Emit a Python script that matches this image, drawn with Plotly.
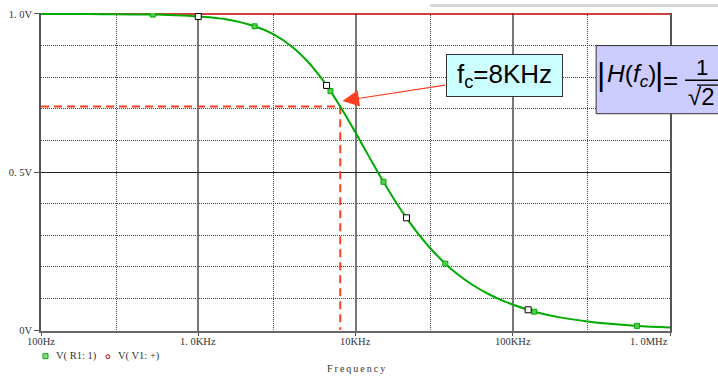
import numpy as np
import plotly.graph_objects as go

# ---- data -------------------------------------------------------------
# V(R1:1) response of the RC low-pass, read across 100 Hz .. 1 MHz
freq_hz = [100, 200, 300, 514, 700, 1000, 1500, 2284, 3000, 4000, 5000, 6000,
           6546, 6930, 8000, 9000, 10000, 12000, 15060, 18000, 21090, 25000,
           30000, 37260, 45000, 55000, 70000, 90000, 125300, 136900, 200000,
           300000, 450000, 617000, 1000000]
v_r1 = [1.0, 1.0, 0.999, 0.998, 0.996, 0.992, 0.983, 0.961, 0.936, 0.894, 0.848,
        0.80, 0.774, 0.756, 0.707, 0.664, 0.625, 0.555, 0.469, 0.406, 0.355,
        0.305, 0.258, 0.210, 0.175, 0.144, 0.114, 0.089, 0.064, 0.058, 0.040,
        0.027, 0.018, 0.013, 0.008]
# sample-marker positions along the V(R1:1) trace (indices into the lists above)
green_idx = [3, 7, 13, 18, 23, 29, 33]
white_idx = [5, 12, 20, 28]

# V(V1:+) source amplitude
freq_src = [100, 1000000]
v_src = [1.0, 1.0]

# cutoff marker
fc_hz = 8000
h_fc = 1 / np.sqrt(2)

x_major = [100, 1000, 10000, 100000, 1000000]
x_minor = [300, 3000, 30000, 300000]
x_labels = ["100Hz", "1. 0KHz", "10KHz", "100KHz", "1. 0MHz"]
y_major = [0, 0.5, 1.0]
y_minor = [0.1, 0.2, 0.3, 0.4, 0.6, 0.7, 0.8, 0.9]
y_labels = ["0V", "0. 5V", "1. 0V"]

# ---- geometry ---------------------------------------------------------
W, H = 718, 377
L, R_EDGE, TOP, BOT = 40, 670, 9, 331


def px(x):
    return (x - L) / (R_EDGE - L)


def py(y):
    return (BOT - y) / (BOT - TOP)


SERIF = "Liberation Serif"
SANS = "Liberation Sans, Arial"
GREEN = "#00aa00"
ORANGE = "#ff4020"
TXT = "#333"

fig = go.Figure()

# source trace
fig.add_trace(go.Scatter(x=freq_src, y=v_src, mode="lines",
                         line=dict(color="#c00000", width=1.5),
                         showlegend=False, hoverinfo="skip"))

# cutoff guide lines
fig.add_trace(go.Scatter(x=[100, fc_hz, fc_hz], y=[h_fc, h_fc, 0], mode="lines",
                         line=dict(color=ORANGE, width=2, dash="8px,5px"),
                         showlegend=False, hoverinfo="skip"))

# output trace
fig.add_trace(go.Scatter(x=freq_hz, y=v_r1, mode="lines",
                         line=dict(color=GREEN, width=2, shape="spline", smoothing=1.0),
                         showlegend=False))
fig.add_trace(go.Scatter(x=[freq_hz[i] for i in green_idx], y=[v_r1[i] for i in green_idx],
                         mode="markers",
                         marker=dict(symbol="square", size=5, color="#55cc55",
                                     line=dict(color=GREEN, width=1)),
                         showlegend=False))
fig.add_trace(go.Scatter(x=[freq_hz[i] for i in white_idx], y=[v_r1[i] for i in white_idx],
                         mode="markers",
                         marker=dict(symbol="square", size=6, color="white",
                                     line=dict(color="black", width=1)),
                         showlegend=False))

ann = []

# x tick labels
for i, (fv, lab) in enumerate(zip(x_major, x_labels)):
    last = i == len(x_major) - 1
    ann.append(dict(x=np.log10(fv), y=py(342), xref="x", yref="paper", text=lab,
                    showarrow=False, xanchor="right" if last else "center",
                    yanchor="middle", font=dict(family=SERIF, size=10.5, color=TXT)))

# axis title
ann.append(dict(x=px(355), y=py(369), xref="paper", yref="paper",
                text="\u2009".join("Frequency"), showarrow=False,
                xanchor="center", yanchor="middle",
                font=dict(family=SERIF, size=10, color=TXT)))

# legend entries
ann.append(dict(x=px(53), y=py(356), xref="paper", yref="paper", text="V( R1: 1)",
                showarrow=False, xanchor="left", yanchor="middle",
                font=dict(family=SERIF, size=10.5, color=TXT)))
ann.append(dict(x=px(115), y=py(356), xref="paper", yref="paper", text="V( V1: +)",
                showarrow=False, xanchor="left", yanchor="middle",
                font=dict(family=SERIF, size=10.5, color=TXT)))

# fc label box
ann.append(dict(x=px(504.5), y=py(72.5), xref="paper", yref="paper",
                text="f<sub>c</sub>=8KHz", showarrow=False,
                xanchor="center", yanchor="middle", width=113, height=39,
                bgcolor="#ccffff", bordercolor="#333", borderwidth=1, borderpad=1,
                font=dict(family=SANS, size=26, color="black")))

# arrow from the label to the curve
ann.append(dict(x=px(342), y=py(98), xref="paper", yref="paper", text="",
                showarrow=True, ax=104, ay=-16, axref="pixel", ayref="pixel",
                arrowhead=2, arrowsize=3, arrowwidth=1.1, arrowcolor=ORANGE,
                standoff=0))

# |H(fc)| = 1/sqrt(2)
for bx in (601, 659):
    ann.append(dict(x=px(bx), y=py(71), xref="paper", yref="paper", text="|",
                    showarrow=False, xanchor="center", yanchor="middle",
                    font=dict(family=SANS, size=32, color="black")))
ann.append(dict(x=px(605), y=py(72), xref="paper", yref="paper",
                text="<i>H</i>(<i>f</i><sub><i>c</i></sub>)", showarrow=False,
                xanchor="left", yanchor="middle",
                font=dict(family=SANS, size=24.5, color="black")))
ann.append(dict(x=px(671), y=py(77), xref="paper", yref="paper", text="=",
                showarrow=False, xanchor="center", yanchor="middle",
                font=dict(family=SANS, size=26, color="black")))
ann.append(dict(x=px(702), y=py(64), xref="paper", yref="paper", text="1",
                showarrow=False, xanchor="center", yanchor="middle",
                font=dict(family=SANS, size=22, color="black")))
ann.append(dict(x=px(702), y=py(94), xref="paper", yref="paper", text="\u221a2",
                showarrow=False, xanchor="center", yanchor="middle",
                font=dict(family=SANS, size=24, color="black")))

shapes = [
    # window strip at the very top
    dict(type="rect", xref="paper", yref="paper", x0=px(430), x1=px(722),
         y0=py(0), y1=py(3), fillcolor="#d6d6d6", line=dict(width=0), layer="below"),
    # formula box
    dict(type="rect", xref="paper", yref="paper", x0=px(596), x1=px(724),
         y0=py(111), y1=py(42), fillcolor="#ccccff", line=dict(color="#333", width=1),
         layer="above"),
    # fraction bar
    dict(type="line", xref="paper", yref="paper", x0=px(685), x1=px(720),
         y0=py(77), y1=py(77), line=dict(color="black", width=1.5), layer="above"),
    # radical overbar
    dict(type="line", xref="paper", yref="paper", x0=px(697), x1=px(718),
         y0=py(82), y1=py(82), line=dict(color="black", width=1.3), layer="above"),
    # legend glyphs
    dict(type="rect", xref="paper", yref="paper", x0=px(42), x1=px(47),
         y0=py(354), y1=py(359), fillcolor="#88dd88", line=dict(color=GREEN, width=1)),
    dict(type="circle", xref="paper", yref="paper", x0=px(105), x1=px(109),
         y0=py(355), y1=py(359), fillcolor="white", line=dict(color="#c00000", width=1)),
]

fig.update_layout(
    width=W, height=H,
    margin=dict(l=L, r=W - R_EDGE, t=TOP, b=H - BOT, pad=0),
    paper_bgcolor="white", plot_bgcolor="white",
    annotations=ann, shapes=shapes, showlegend=False,
    xaxis=dict(type="log", range=[2, 6], tickmode="array", tickvals=x_major,
               showticklabels=False, ticks="outside", ticklen=3, tickcolor="#555",
               showgrid=True, gridcolor="#777", gridwidth=1.5,
               minor=dict(tickmode="array", tickvals=x_minor, showgrid=True,
                          gridcolor="#444", gridwidth=1, griddash="1px,1px", ticks=""),
               showline=True, linecolor="#666", linewidth=1.5, zeroline=False,
               fixedrange=True),
    yaxis=dict(range=[-1 / 320, 1 + 1 / 320], tickmode="array", tickvals=y_major,
               ticktext=y_labels, ticks="outside", ticklen=5,
               tickcolor="#555", tickfont=dict(family=SERIF, size=10.5, color=TXT),
               showgrid=True, gridcolor="#222", gridwidth=1,
               minor=dict(tickmode="array", tickvals=y_minor, showgrid=True,
                          gridcolor="#444", gridwidth=1, griddash="1px,1px", ticks=""),
               showline=True, linecolor="#555", linewidth=1.5, mirror=True,
               zeroline=False, fixedrange=True),
)

fig.write_html("out.html")
